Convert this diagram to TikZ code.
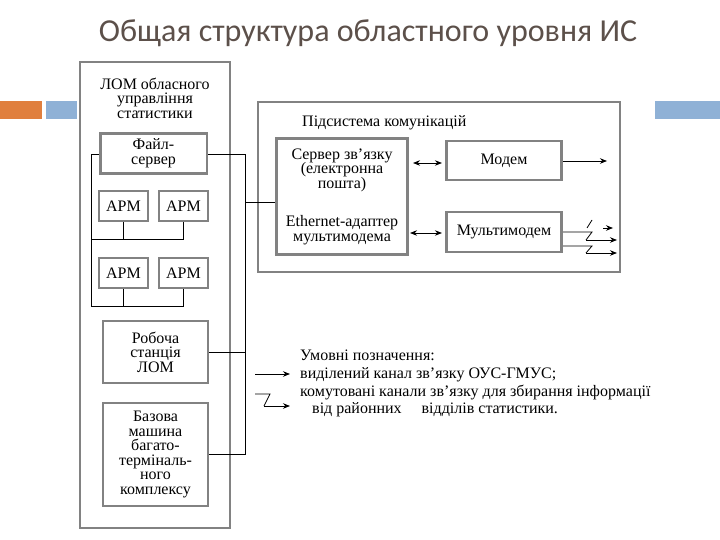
\documentclass[tikz,border=0pt]{standalone}
\usepackage{fontspec}
\setmainfont{Liberation Serif}
\newfontfamily\titlefont{Carlito}
\usetikzlibrary{arrows.meta}
\definecolor{boxgray}{RGB}{130,130,130}
\definecolor{titlecol}{RGB}{92,80,74}
\definecolor{barorange}{RGB}{224,127,62}
\definecolor{barblue}{RGB}{143,177,214}
\newcommand{\diafont}{\fontsize{16bp}{14.6bp}\selectfont}
\begin{document}
\begin{tikzpicture}[x=1bp,y=-1bp,
  gbox/.style={draw=boxgray,line width=2.6bp,fill=white,inner sep=0pt,align=center,font=\diafont},
  frame/.style={draw=boxgray,line width=2.6bp},
  conn/.style={draw=black,line width=0.8bp},
  arr/.style={conn,-{Stealth[length=7bp,width=5.5bp]}},
  darr/.style={conn,{Stealth[length=7bp,width=5.5bp]}-{Stealth[length=7bp,width=5.5bp]}},
  lbl/.style={inner sep=0pt,font=\diafont,align=center},
  lgd/.style={inner sep=0pt,font=\diafont,align=left,anchor=base west},
]
\useasboundingbox (0,0) rectangle (720,540);
% title
\node[inner sep=0pt,font=\titlefont\fontsize{32bp}{34bp}\selectfont,text=titlecol] (title) at (368,33) {Общая структура областного уровня ИС};
% decorative bars
\fill[barorange] (0,101) rectangle (42,119);
\fill[barblue] (46,101) rectangle (77,119);
\fill[barblue] (655,101) rectangle (720,119);
% large frames
\draw[frame] (80,62) rectangle (230,528);
\draw[frame] (258,102) rectangle (620,272);
% left frame title
\node[lbl] (lomt) at (155,98) {ЛОМ обласного\\управління\\статистики};
% left boxes
\node[gbox,minimum width=107,minimum height=40] (fs) at (153.5,153.5) {Файл-\\сервер};
\node[gbox,minimum width=49,minimum height=30] (arm1) at (123.5,206) {АРМ};
\node[gbox,minimum width=49,minimum height=30] (arm2) at (183.5,206) {АРМ};
\node[gbox,minimum width=49,minimum height=30] (arm3) at (123.5,273) {АРМ};
\node[gbox,minimum width=49,minimum height=30] (arm4) at (183.5,273) {АРМ};
\node[gbox,minimum width=105,minimum height=62] (rs) at (155.5,352) {Робоча\\станція\\ЛОМ};
\node[gbox,minimum width=105,minimum height=103] (bm) at (155.5,454.5) {Базова\\машина\\багато-\\терміналь-\\ного\\комплексу};
% communication subsystem
\node[lbl,anchor=base west] (comt) at (302,127) {Підсистема комунікацій};
\node[gbox,minimum width=132,minimum height=117] (sv) at (342,196.5) {};
\node[lbl] (svt) at (342,170) {Сервер зв’язку\\(електронна\\пошта)};
\node[lbl] (eth) at (342,230) {Ethernet-адаптер\\мультимодема};
\node[gbox,minimum width=116,minimum height=39] (md) at (504,160.5) {Модем};
\node[gbox,minimum width=116,minimum height=40] (mm) at (504,232) {Мультимодем};
% left bus
\coordinate (lb0) at (91,154);
\coordinate (lb1) at (91,239);
\coordinate (lb2) at (91,306);
\draw[conn] (fs.west |- lb0) -- (lb0) -- (lb2) -- (lb2 -| arm4.south) -- (arm4.south);
\draw[conn] (lb1) -- (lb1 -| arm2.south) -- (arm2.south);
\draw[conn] (arm1.south) -- (arm1.south |- lb1);
\draw[conn] (arm3.south) -- (arm3.south |- lb2);
% right bus
\coordinate (rb0) at (245,154);
\coordinate (rb1) at (245,202);
\coordinate (rb2) at (245,352);
\coordinate (rb3) at (245,454.5);
\draw[conn] (fs.east |- rb0) -- (rb0) -- (rb3) -- (bm.east);
\draw[conn] (rs.east) -- (rb2);
\draw[conn] (rb1) -- (rb1 -| sv.west);
% double arrows
\draw[darr] (sv.east |- 0,163) ++(4,0) -- ([xshift=-3bp]md.west |- 0,163);
\draw[darr] (sv.east |- 0,233) ++(1,0) -- ([xshift=-3bp]mm.west |- 0,233);
% modem output
\coordinate (mo) at (607,161);
\draw[arr] (md.east |- mo) -- (mo);
% multimodem switched outputs
\coordinate (za) at (592,220);
\coordinate (zb) at (587,228);
\coordinate (zc) at (603,228);
\coordinate (zd) at (613,228);
\draw[conn] (zb) -- (za);
\draw[arr] (zc) -- (zd);
\coordinate (m1) at (592,232);
\coordinate (m1b) at (586,240);
\coordinate (m1c) at (617,240);
\draw[conn] (mm.east |- m1) -- (m1) -- (m1b);
\draw[arr] (m1b) -- (m1c);
\coordinate (m2) at (592,246);
\coordinate (m2b) at (586,253);
\coordinate (m2c) at (617,253);
\draw[conn] (mm.east |- m2) -- (m2) -- (m2b);
\draw[arr] (m2b) -- (m2c);
% legend
\node[lgd] (l1) at (300,360) {Умовні позначення:};
\node[lgd] (l2) at (300,378) {виділений канал зв’язку ОУС-ГМУС;};
\node[lgd] (l3) at (300,396) {комутовані канали зв’язку для збирання інформації};
\node[lgd] (l4) at (312,413) {від районних\quad\ відділів статистики.};
\coordinate (ls0) at (255,374);
\coordinate (ls1) at (290,374);
\draw[arr] (ls0) -- (ls1);
\coordinate (lz0) at (255,394);
\coordinate (lz1) at (270,394);
\coordinate (lz2) at (264,406);
\coordinate (lz3) at (290,406);
\draw[conn] (lz0) -- (lz1) -- (lz2);
\draw[arr] (lz2) -- (lz3);
\end{tikzpicture}
\end{document}
